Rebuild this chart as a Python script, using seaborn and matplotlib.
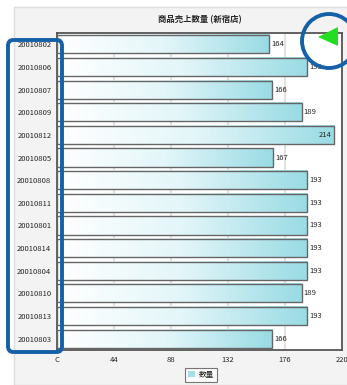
import numpy as np
import matplotlib
matplotlib.use("Agg")
import matplotlib.pyplot as plt
import seaborn as sns
from matplotlib.colors import LinearSegmentedColormap
from matplotlib.patches import Rectangle, FancyBboxPatch, Circle, Polygon, Patch

# -----------------------------
# DATA
# -----------------------------

dates = ["20010802", "20010806", "20010807", "20010809", "20010812",
         "20010805", "20010808", "20010811", "20010801", "20010814",
         "20010804", "20010810", "20010813", "20010803"]
quantities = [164, 193, 166, 189, 214, 167, 193, 193, 193, 193, 193, 189, 193, 166]
x_ticks = [0, 44, 88, 132, 176, 220]
title = "商品売上数量 (新宿店)"
legend_label = "数量"

# -----------------------------
# STYLE
# -----------------------------

sns.set_style("white")
plt.rcParams["font.family"] = ["Noto Sans CJK JP", "DejaVu Sans"]

W, H = 347, 385
fig = plt.figure(figsize=(W / 100, H / 100), dpi=100)
fig.patch.set_facecolor("white")

# grey panel behind the chart
fig.patches.append(Rectangle((14 / W, 0), 1, 1 - 7 / H, transform=fig.transFigure,
                             facecolor="#f3f3f3", edgecolor="#dddddd", lw=1, zorder=-5))

ax = fig.add_axes([57 / W, 1 - 350 / H, 285 / W, 317 / H])
ax.set_zorder(1)
ax.set_facecolor("white")

sns.barplot(x=quantities, y=dates, orient="h", ax=ax, color="#a6dde6",
            edgecolor="#666666", linewidth=1, width=0.8, zorder=3)

# gradient fill for each bar
cmap = LinearSegmentedColormap.from_list("bar", ["#ffffff", "#e3f6f9", "#99dbe4"])
grad = np.linspace(0, 1, 256).reshape(1, -1)
for p in ax.patches:
    x0, y0, w, h = p.get_x(), p.get_y(), p.get_width(), p.get_height()
    ax.imshow(grad, extent=[x0, x0 + w, y0 + h, y0], aspect="auto", cmap=cmap, zorder=2)
    p.set_facecolor("none")

ax.set_xlim(0, 220)
ax.set_ylim(len(dates) - 0.5, -0.5)
ax.set_xticks(x_ticks)
ax.set_xticklabels(["C"] + [str(t) for t in x_ticks[1:]], fontsize=5.5)
ax.tick_params(axis="both", length=0, labelsize=5.5, pad=4)
ax.set_xlabel("")
ax.set_ylabel("")
ax.xaxis.grid(True, color="#e2e2e2", lw=1.5, zorder=0)
ax.set_axisbelow(True)
for s in ax.spines.values():
    s.set_color("#555555")
    s.set_linewidth(1.3)

# value labels
for i, v in enumerate(quantities):
    if v > 205:
        ax.text(v - 2, i, str(v), va="center", ha="right", fontsize=5.5, zorder=5)
    else:
        ax.text(v + 1.5, i, str(v), va="center", ha="left", fontsize=5.5, zorder=5)

fig.text(200 / W, 1 - 20 / H, title, ha="center", va="center", fontsize=6, fontweight="bold")

leg = fig.legend(handles=[Patch(facecolor="#a6dde6", edgecolor="none")], labels=[legend_label],
                 loc="center", bbox_to_anchor=(201 / W, 1 - 375 / H), fontsize=5.5,
                 frameon=True, fancybox=False, handlelength=0.8, handleheight=0.8,
                 handletextpad=0.5, borderpad=0.4)
leg.get_frame().set_edgecolor("#555555")
leg.get_frame().set_linewidth(0.8)

# screenshot annotations
fig.patches.append(FancyBboxPatch((8 / W, 1 - 352 / H), 54 / W, 312 / H,
                                  boxstyle="round,pad=0,rounding_size=0.015",
                                  transform=fig.transFigure, fill=False,
                                  edgecolor="#1560a8", lw=2.8, zorder=10))
fig.patches.append(Polygon([(318 / W, 1 - 37 / H), (338 / W, 1 - 27 / H), (338 / W, 1 - 46 / H)],
                           closed=True, transform=fig.transFigure,
                           facecolor="#22dd22", edgecolor="none", zorder=10))
circ = Circle((329, H - 41), 27, transform=None, fill=False,
              edgecolor="#1560a8", lw=2.8, zorder=11)
fig.patches.append(circ)

fig.savefig("out.png", dpi=100)
